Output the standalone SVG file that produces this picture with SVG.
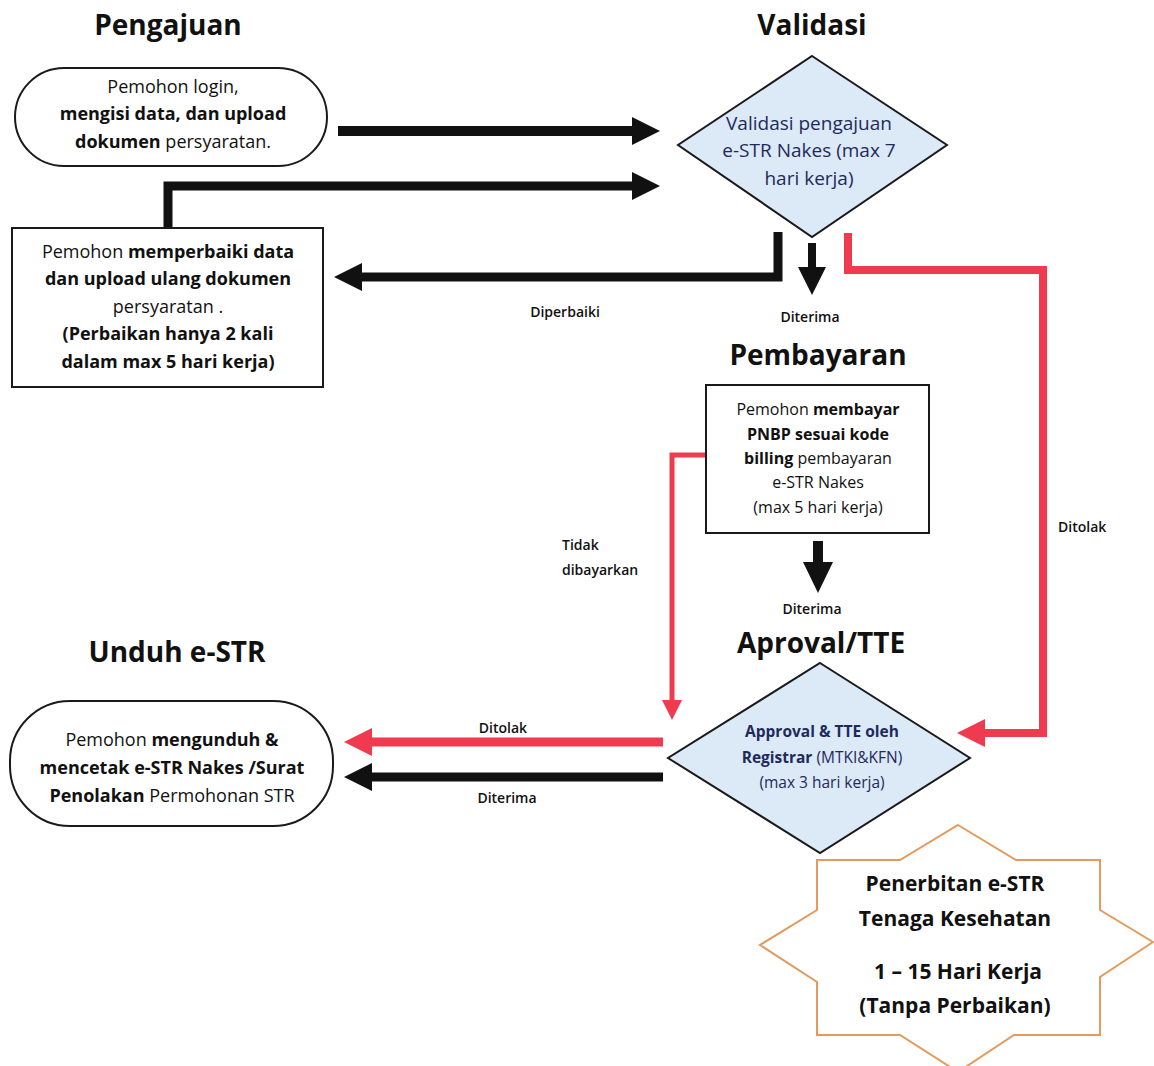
<svg xmlns="http://www.w3.org/2000/svg" width="1154" height="1066" viewBox="0 0 1154 1066">
<style>
text{font-family:"Open Sans","Noto Sans","Liberation Sans",sans-serif;fill:#111;text-anchor:middle}
.title{font-size:28px;font-weight:700}
.b{font-weight:700}
.t18{font-size:18px}
.t19{font-size:19px}
.t16{font-size:16px}
.t15{font-size:15.5px}
.navy{fill:#1f2a5c}
.lbl{font-size:14px;font-weight:600}
.star{font-size:21px;font-weight:700}
.box{fill:#fff;stroke:#1a1a1a;stroke-width:2}
.dia{fill:#dce9f6;stroke:#1a1a1a;stroke-width:2}
.blk{fill:none;stroke:#111;stroke-linejoin:miter}
.red{fill:none;stroke:#ef3a4f;stroke-linejoin:miter}
</style>
<defs>
<marker id="ab" markerUnits="userSpaceOnUse" markerWidth="30" markerHeight="30" refX="0" refY="14" orient="auto" overflow="visible"><path d="M0,0 L28,14 L0,28 Z" fill="#111"/></marker>
<marker id="abd" markerUnits="userSpaceOnUse" markerWidth="32" markerHeight="32" refX="0" refY="15" orient="auto" overflow="visible"><path d="M0,0 L31,15 L0,30 Z" fill="#111"/></marker>
<marker id="ar" markerUnits="userSpaceOnUse" markerWidth="30" markerHeight="30" refX="0" refY="14" orient="auto" overflow="visible"><path d="M0,0 L28,14 L0,28 Z" fill="#ef3a4f"/></marker>
<marker id="ars" markerUnits="userSpaceOnUse" markerWidth="22" markerHeight="22" refX="0" refY="10" orient="auto" overflow="visible"><path d="M0,0 L20,10 L0,20 Z" fill="#ef3a4f"/></marker>
</defs>
<rect width="1154" height="1066" fill="#fff"/>

<g id="titles">
<text class="title" x="168" y="35">Pengajuan</text>
<text class="title" x="812" y="35">Validasi</text>
<text class="title" x="818" y="365">Pembayaran</text>
<text class="title" x="821" y="653">Aproval/TTE</text>
<text class="title" x="177" y="662">Unduh e-STR</text>
</g>

<g id="connectors">
<path class="blk" d="M338,131 H632" stroke-width="10" marker-end="url(#ab)"/>
<path class="blk" d="M168,228 V186 H632" stroke-width="9" marker-end="url(#ab)"/>
<path class="blk" d="M778,232 V277 H362" stroke-width="9" marker-end="url(#ab)"/>
<path class="blk" d="M812,243 V267" stroke-width="8" marker-end="url(#ab)"/>
<path class="blk" d="M818,541 V562" stroke-width="10" marker-end="url(#abd)"/>
<path class="red" d="M848,233 V270 H1043 V733 H985" stroke-width="8" marker-end="url(#ar)"/>
<path class="red" d="M706,455 H672 V700" stroke-width="5" marker-end="url(#ars)"/>
<path class="red" d="M663,742 H372" stroke-width="9" marker-end="url(#ar)"/>
<path class="blk" d="M663,777 H372" stroke-width="9" marker-end="url(#ab)"/>
<text class="lbl" x="565" y="317">Diperbaiki</text>
<text class="lbl" x="810" y="322">Diterima</text>
<text class="lbl" x="812" y="614">Diterima</text>
<text class="lbl" x="1058" y="532" style="text-anchor:start">Ditolak</text>
<text class="lbl" x="562" y="550" style="text-anchor:start">Tidak</text>
<text class="lbl" x="562" y="575" style="text-anchor:start">dibayarkan</text>
<text class="lbl" x="503" y="733">Ditolak</text>
<text class="lbl" x="507" y="803">Diterima</text>
</g>

<g id="node-pengajuan">
<rect class="box" x="15" y="68" width="312" height="98" rx="49"/>
<text class="t18" x="173" y="93">Pemohon login,</text>
<text class="t18 b" x="173" y="120">mengisi data, dan upload</text>
<text class="t18" x="173" y="148"><tspan class="b">dokumen</tspan> persyaratan.</text>
</g>

<g id="node-perbaikan">
<rect class="box" x="12" y="228" width="311" height="159"/>
<text class="t18" x="168" y="258">Pemohon <tspan class="b">memperbaiki data</tspan></text>
<text class="t18 b" x="168" y="285">dan upload ulang dokumen</text>
<text class="t18" x="168" y="313">persyaratan .</text>
<text class="t18 b" x="168" y="340">(Perbaikan hanya 2 kali</text>
<text class="t18 b" x="168" y="368">dalam max 5 hari kerja)</text>
</g>

<g id="node-validasi">
<polygon class="dia" points="812,56 947,145 812,237 678,145"/>
<text class="t19 navy" x="809" y="130">Validasi pengajuan</text>
<text class="t19 navy" x="809" y="157">e-STR Nakes (max 7</text>
<text class="t19 navy" x="809" y="185">hari kerja)</text>
</g>

<g id="node-pembayaran">
<rect class="box" x="706" y="385" width="223" height="148"/>
<text class="t16" x="818" y="415">Pemohon <tspan class="b">membayar</tspan></text>
<text class="t16 b" x="818" y="440">PNBP  sesuai kode</text>
<text class="t16" x="818" y="464"><tspan class="b">billing</tspan> pembayaran</text>
<text class="t16" x="818" y="488">e-STR Nakes</text>
<text class="t16" x="818" y="513">(max 5 hari kerja)</text>
</g>

<g id="node-approval">
<polygon class="dia" points="820,663 970,758 820,853 668,758"/>
<text class="t15 navy b" x="822" y="737">Approval &amp; TTE oleh</text>
<text class="t15 navy" x="822" y="763"><tspan class="b">Registrar</tspan> (MTKI&amp;KFN)</text>
<text class="t15 navy" x="822" y="788">(max 3 hari kerja)</text>
</g>

<g id="node-unduh">
<rect class="box" x="10" y="701" width="323" height="125" rx="60"/>
<text class="t18" x="172" y="746">Pemohon <tspan class="b">mengunduh &amp;</tspan></text>
<text class="t18 b" x="172" y="774">mencetak e-STR Nakes /Surat</text>
<text class="t18" x="172" y="802"><tspan class="b">Penolakan</tspan> Permohonan STR</text>
</g>

<g id="node-penerbitan">
<polygon points="958,825 1016,860 1100,860 1100,910 1153,942 1100,977 1100,1035 1014,1035 958,1072 900,1035 817,1035 817,982 760,945 817,910 817,860 900,860" fill="#fff" stroke="#e39a5c" stroke-width="2"/>
<text class="star" x="955" y="891">Penerbitan e-STR</text>
<text class="star" x="955" y="926">Tenaga Kesehatan</text>
<text class="star" x="958" y="979">1 – 15 Hari Kerja</text>
<text class="star" x="955" y="1013">(Tanpa Perbaikan)</text>
</g>
</svg>
